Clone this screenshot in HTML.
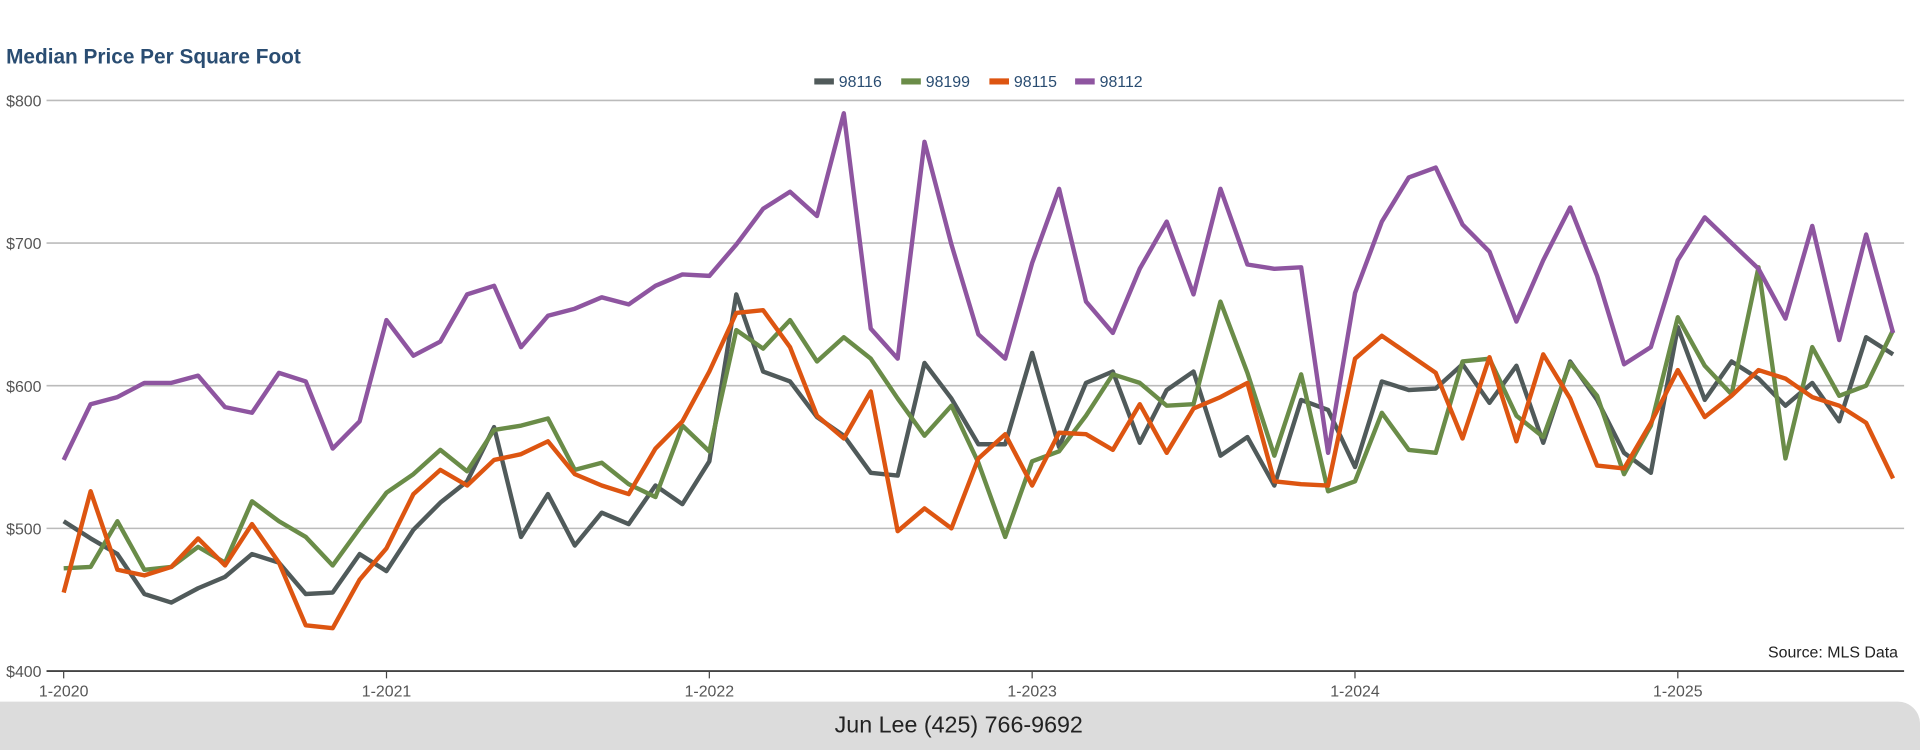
<!DOCTYPE html>
<html><head><meta charset="utf-8"><style>
body{margin:0;width:1920px;height:750px;background:#fff;font-family:"Liberation Sans",sans-serif;overflow:hidden}
</style></head><body>
<svg width="1920" height="750" id="svg">
<g transform="scale(1.2245)">
<text x="5" y="52" font-size="17" font-weight="bold" fill="#2a4d72">Median Price Per Square Foot</text>
<rect x="-20" y="573" width="1588" height="60" rx="18" fill="#dcdcdc"/>
<text x="783" y="598" font-size="19" text-anchor="middle" fill="#222">Jun Lee (425) 766-9692</text>
<text x="1550" y="537" font-size="13" text-anchor="end" fill="#222">Source: MLS Data</text>
<g id="grid"></g><g id="lines"></g><g id="legend"></g>
</g>
</svg>
<script>
const yTicks=[400,500,600,700,800];
const xTickLabels=["1-2020","1-2021","1-2022","1-2023","1-2024","1-2025"];
const seriesNames=["98116","98199","98115","98112"];
const seriesColors=["#505a5a","#6a8c48","#dd5511","#8e55a0"];
const s98116=[505,493,482,454,448,458,466,482,476,454,455,482,470,499,518,533,571,494,524,488,511,503,530,517,547,664,610,603,578,565,539,537,616,591,559,559,623,557,602,610,560,597,610,551,564,530,590,583,543,603,597,598,615,588,614,560,617,590,553,539,641,590,617,605,586,602,575,634,622];
const s98199=[472,473,505,471,473,487,476,519,505,494,474,500,525,538,555,540,569,572,577,541,546,531,522,572,554,639,626,646,617,634,619,591,565,586,546,494,547,554,579,608,602,586,587,659,609,551,608,526,533,581,555,553,617,619,579,564,616,593,538,572,648,614,594,683,549,627,593,600,639];
const s98115=[455,526,471,467,473,493,474,503,476,432,430,464,486,524,541,530,548,552,561,538,530,524,556,575,610,651,653,627,579,563,596,498,514,500,549,566,530,567,566,555,587,553,584,592,602,533,531,530,619,635,622,609,563,620,561,622,591,544,542,574,611,578,593,611,605,592,586,574,535];
const s98112=[548,587,592,602,602,607,585,581,609,603,556,575,646,621,631,664,670,627,649,654,662,657,670,678,677,699,724,736,719,791,640,619,771,699,636,619,686,738,659,637,682,715,664,738,685,682,683,553,665,715,746,753,713,694,645,688,725,677,615,627,688,718,700,682,647,712,632,706,637];
const series=[s98116,s98199,s98115,s98112];
const NS="http://www.w3.org/2000/svg";
const X0=52,PX_M=21.97,Y0=548,PX_V=1.165;
function xs(i){return X0+PX_M*i}
function ys(v){return Y0-(v-400)*PX_V}
function mk(t,a,p){const e=document.createElementNS(NS,t);for(const k in a)e.setAttribute(k,a[k]);p.appendChild(e);return e}
const grid=document.getElementById('grid');
yTicks.forEach(v=>{
 if(v>400){const l=mk('line',{x1:38,x2:1555,y1:ys(v),y2:ys(v),stroke:'#bbb','stroke-width':1.3},grid);
 
 }
 const t=mk('text',{x:5,y:ys(v)+5,'font-size':13,fill:'#555'},grid);t.textContent='$'+v;
 
 
});
const ax=mk('line',{x1:38,x2:1555,y1:Y0,y2:Y0,stroke:'#444','stroke-width':1.5},grid);


xTickLabels.forEach((s,k)=>{const x=xs(k*12);
 const tk=mk('line',{x1:x,x2:x,y1:Y0,y2:Y0+6,stroke:'#444'},grid);
 
 
 const t=mk('text',{x:x,y:Y0+21,'font-size':13,fill:'#555','text-anchor':'middle'},grid);t.textContent=s;
 
 
});
const lines=document.getElementById('lines');
series.forEach((d,si)=>{
 const p=mk('polyline',{points:d.map((v,i)=>xs(i).toFixed(1)+','+ys(v).toFixed(1)).join(' '),fill:'none',stroke:seriesColors[si],'stroke-width':3.6,'stroke-linejoin':'round'},lines);
 
 
});
const lg=document.getElementById('legend');
const lx=[665,736,808,878];
seriesNames.forEach((n,i)=>{
 const r=mk('rect',{x:lx[i],y:64,width:16,height:5,fill:seriesColors[i]},lg);
 
 
 const t=mk('text',{x:lx[i]+20,y:71,'font-size':13,fill:'#2a4d72'},lg);t.textContent=n;
 
 
});
</script>
</body></html>
